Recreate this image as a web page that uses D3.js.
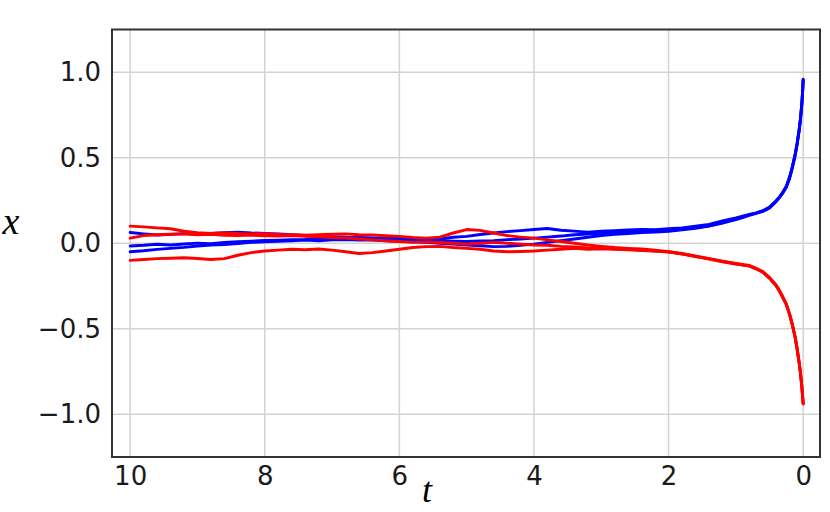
<!DOCTYPE html>
<html>
<head>
<meta charset="utf-8">
<script src="https://cdn.jsdelivr.net/npm/d3@7/dist/d3.min.js"></script>
<style>
  html, body { margin: 0; padding: 0; background: #fff; }
  svg { display: block; }
</style>
</head>
<body>
<svg id="chart" width="830" height="512"></svg>
<script>
// ---- data ----
const times = [10, 9.8, 9.6, 9.4, 9.2, 9.0, 8.8, 8.6, 8.4, 8.2, 8.0, 7.8, 7.6, 7.4, 7.2, 7.0,
  6.8, 6.6, 6.4, 6.2, 6.0, 5.8, 5.6, 5.4, 5.2, 5.0, 4.8, 4.6, 4.4, 4.2, 4.0, 3.8, 3.6, 3.4,
  3.2, 3.0, 2.8, 2.6, 2.4, 2.2, 2.0, 1.8, 1.6, 1.4, 1.2, 1.0,
  0.9, 0.8, 0.7, 0.6, 0.5, 0.4, 0.35, 0.3, 0.25, 0.2, 0.16, 0.12, 0.09, 0.06, 0.04, 0.02, 0.01, 0];

const blue1 = [0.063,0.055,0.048,0.052,0.056,0.053,0.058,0.062,0.064,0.06,0.058,0.055,0.05,0.046,0.041,0.038,
  0.036,0.031,0.03,0.027,0.031,0.026,0.021,0.025,0.035,0.04,0.051,0.06,0.068,0.074,0.08,0.086,0.076,0.071,
  0.065,0.07,0.074,0.078,0.081,0.079,0.085,0.09,0.1,0.11,0.13,0.148,
  0.158,0.168,0.178,0.19,0.212,0.25,0.272,0.3,0.335,0.39,0.45,0.52,0.585,0.665,0.73,0.82,0.88,0.96];
const blue2 = [-0.016,-0.012,-0.006,-0.01,-0.004,0.001,-0.003,0.004,0.009,0.012,0.016,0.018,0.021,0.022,0.026,0.028,
  0.031,0.035,0.03,0.026,0.022,0.02,0.017,0.015,0.012,0.01,0.013,0.015,0.021,0.025,0.03,0.036,0.042,0.05,
  0.054,0.058,0.061,0.065,0.068,0.071,0.074,0.082,0.092,0.102,0.12,0.142,
  0.153,0.166,0.176,0.188,0.208,0.246,0.27,0.298,0.33,0.385,0.445,0.515,0.58,0.66,0.725,0.815,0.875,0.955];
const blue3 = [-0.05,-0.044,-0.036,-0.03,-0.024,-0.016,-0.01,-0.008,-0.002,0.005,0.008,0.012,0.015,0.018,0.015,0.02,
  0.022,0.019,0.018,0.014,0.012,0.009,0.005,0.0,-0.005,-0.01,-0.015,-0.02,-0.018,-0.012,-0.005,0.005,0.015,0.025,
  0.035,0.045,0.052,0.057,0.062,0.066,0.07,0.078,0.088,0.1,0.118,0.138,
  0.15,0.163,0.175,0.186,0.206,0.244,0.268,0.295,0.328,0.382,0.442,0.512,0.578,0.658,0.722,0.812,0.872,0.952];
const red1 = [0.1,0.096,0.09,0.085,0.07,0.062,0.058,0.061,0.057,0.055,0.056,0.052,0.05,0.047,0.05,0.053,
  0.055,0.05,0.048,0.044,0.04,0.034,0.03,0.036,0.06,0.08,0.075,0.06,0.045,0.036,0.03,0.02,0.01,0.0,
  -0.01,-0.018,-0.025,-0.03,-0.034,-0.04,-0.05,-0.06,-0.075,-0.09,-0.105,-0.12,
  -0.128,-0.132,-0.148,-0.17,-0.205,-0.25,-0.282,-0.32,-0.36,-0.42,-0.48,-0.55,-0.62,-0.7,-0.76,-0.84,-0.89,-0.94];
const red2 = [0.03,0.045,0.05,0.053,0.055,0.05,0.052,0.047,0.045,0.048,0.044,0.042,0.045,0.04,0.038,0.034,
  0.03,0.025,0.02,0.015,0.01,0.005,0.008,0.004,0.0,-0.005,0.0,0.005,0.0,-0.005,-0.01,-0.012,-0.018,-0.022,
  -0.028,-0.03,-0.033,-0.036,-0.04,-0.045,-0.052,-0.062,-0.078,-0.092,-0.108,-0.122,
  -0.126,-0.134,-0.15,-0.168,-0.203,-0.248,-0.28,-0.318,-0.358,-0.418,-0.478,-0.548,-0.618,-0.698,-0.758,-0.838,-0.888,-0.938];
const red3 = [-0.1,-0.095,-0.09,-0.088,-0.085,-0.089,-0.095,-0.09,-0.07,-0.055,-0.045,-0.04,-0.035,-0.038,-0.034,-0.04,
  -0.05,-0.06,-0.055,-0.045,-0.035,-0.025,-0.02,-0.018,-0.025,-0.03,-0.035,-0.045,-0.05,-0.048,-0.045,-0.04,-0.035,-0.03,
  -0.035,-0.032,-0.035,-0.038,-0.042,-0.046,-0.05,-0.063,-0.076,-0.09,-0.106,-0.118,
  -0.124,-0.13,-0.146,-0.166,-0.2,-0.246,-0.278,-0.316,-0.356,-0.416,-0.476,-0.546,-0.616,-0.696,-0.756,-0.836,-0.886,-0.936];

const xTicks = [10, 8, 6, 4, 2, 0];
const yTicks = [1.0, 0.5, 0.0, -0.5, -1.0];
const xTickLabels = ["10", "8", "6", "4", "2", "0"];
const yTickLabels = ["1.0", "0.5", "0.0", "\u22120.5", "\u22121.0"];

const seriesList = [
  { values: blue1, color: "#0000ff" },
  { values: blue2, color: "#0000ff" },
  { values: blue3, color: "#0000ff" },
  { values: red1, color: "#ff0000" },
  { values: red2, color: "#ff0000" },
  { values: red3, color: "#ff0000" }
];

// ---- layout ----
const L = 112, R = 820, T = 29.5, B = 457;
const svg = d3.select("#chart");

const x = d3.scaleLinear().domain([10.27, -0.25]).range([L, R]);
const y = d3.scaleLinear().domain([-1.25, 1.25]).range([B, T]);

// grid
const grid = svg.append("g");
grid.selectAll("line.gx").data(xTicks).enter().append("line")
  .attr("x1", d => x(d)).attr("x2", d => x(d)).attr("y1", T).attr("y2", B)
  .attr("stroke", "#d3d3d3").attr("stroke-width", 1.5);
grid.selectAll("line.gy").data(yTicks).enter().append("line")
  .attr("x1", L).attr("x2", R).attr("y1", d => y(d)).attr("y2", d => y(d))
  .attr("stroke", "#d3d3d3").attr("stroke-width", 1.5);

// clip
svg.append("clipPath").attr("id", "plotclip").append("rect")
  .attr("x", L).attr("y", T).attr("width", R - L).attr("height", B - T);

const line = d3.line().x((d, i) => x(times[i])).y(d => y(d));
const plot = svg.append("g").attr("clip-path", "url(#plotclip)");
plot.selectAll("path").data(seriesList).enter().append("path")
  .attr("d", s => line(s.values))
  .attr("fill", "none")
  .attr("stroke", s => s.color)
  .attr("stroke-width", 2.9)
  .attr("stroke-linejoin", "round")
  .attr("stroke-linecap", "round");

// frame
svg.append("rect").attr("x", L).attr("y", T).attr("width", R - L).attr("height", B - T)
  .attr("fill", "none").attr("stroke", "#333").attr("stroke-width", 2);

// axes
const xAxis = d3.axisBottom(x).tickValues(xTicks).tickSize(0).tickPadding(10)
  .tickFormat((d, i) => xTickLabels[i]);
const gx = svg.append("g").attr("transform", `translate(0,${B})`).call(xAxis);
gx.select(".domain").remove();
gx.selectAll("text").attr("font-family", "DejaVu Sans").attr("font-size", 26).attr("fill", "#1a1a1a");

const yAxis = d3.axisLeft(y).tickValues(yTicks).tickSize(0).tickPadding(11)
  .tickFormat((d, i) => yTickLabels[i]);
const gy = svg.append("g").attr("transform", `translate(${L},0)`).call(yAxis);
gy.select(".domain").remove();
gy.selectAll("text").attr("font-family", "DejaVu Sans").attr("font-size", 26).attr("fill", "#1a1a1a");

// axis labels
svg.append("text").attr("x", 11).attr("y", 234).attr("text-anchor", "middle")
  .attr("font-family", "Liberation Serif").attr("font-style", "italic").attr("font-size", 38)
  .attr("fill", "#000").text("x");
svg.append("text").attr("x", 427).attr("y", 502).attr("text-anchor", "middle")
  .attr("font-family", "Liberation Serif").attr("font-style", "italic").attr("font-size", 36)
  .attr("fill", "#000").text("t");
</script>
</body>
</html>
